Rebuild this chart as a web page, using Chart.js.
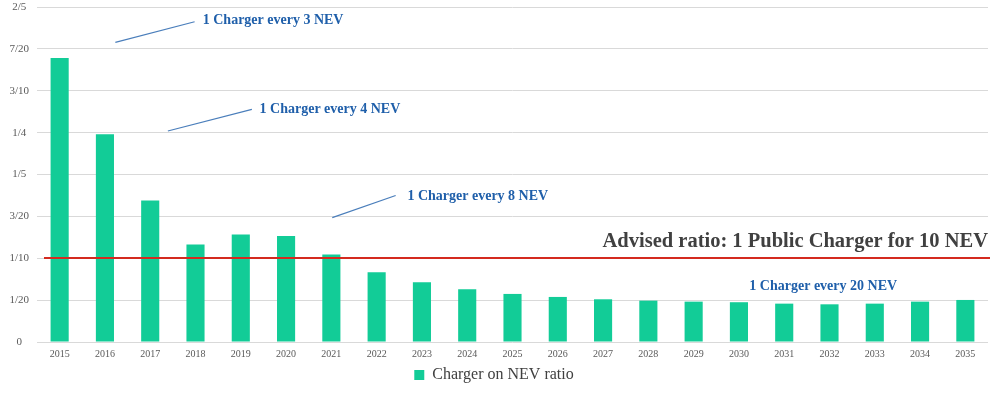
<!DOCTYPE html>
<html>
<head>
<meta charset="utf-8">
<script src="https://cdn.jsdelivr.net/npm/chart.js@4.4.1/dist/chart.umd.min.js"></script>
<style>
    html, body { margin: 0; padding: 0; background: #fff; }
    #wrap { width: 1000px; height: 393px; position: relative; }
</style>
</head>
<body>
<div id="wrap"><canvas id="chart"></canvas></div>
<script>
// Data.
var years = ['2015', '2016', '2017', '2018', '2019', '2020', '2021', '2022', '2023', '2024', '2025',
    '2026', '2027', '2028', '2029', '2030', '2031', '2032', '2033', '2034', '2035'];
var chargerRatio = [0.339, 0.248, 0.169, 0.1165, 0.1285, 0.1266, 0.1046, 0.0834, 0.0714, 0.063, 0.0574,
    0.0538, 0.051, 0.0494, 0.0482, 0.0475, 0.0458, 0.045, 0.0458, 0.0482, 0.0502];
var tickLabels = ['0', '1/20', '1/10', '3/20', '1/5', '1/4', '3/10', '7/20', '2/5'];
var tickStep = 0.05;
var advisedRatio = 0.1;
var seriesName = 'Charger on NEV ratio';
var advisedLabel = 'Advised ratio: 1 Public Charger for 10 NEV';

// Callouts, placed in data units (category index, ratio).
var callouts = [
    {text: '1 Charger every 3 NEV', from: [1.23, 0.3577], to: [2.98, 0.3824], at: [3.16, 0.3844]},
    {text: '1 Charger every 4 NEV', from: [2.39, 0.2519], to: [4.245, 0.2778], at: [4.415, 0.2778]},
    {text: '1 Charger every 8 NEV', from: [6.02, 0.1485], to: [7.42, 0.1749], at: [7.68, 0.1736]},
    {text: '1 Charger every 20 NEV', at: [15.23, 0.0659]}
];

var serif = "'Liberation Serif', 'Times New Roman', serif";
var grey = '#595959';

/**
 * Draw the advised-ratio line and the callouts on top of the bars.
 */
var calloutPlugin = {
    id: 'callouts',
    afterDatasetsDraw: function(chart) {
        var ctx = chart.ctx;
        var x = chart.scales.x;
        var y = chart.scales.y;
        var area = chart.chartArea;

        ctx.save();
        // Red reference line.
        var ry = Math.round(y.getPixelForValue(advisedRatio));
        ctx.strokeStyle = '#d42a1f';
        ctx.lineWidth = 2;
        ctx.beginPath();
        ctx.moveTo(area.left + 7, ry);
        ctx.lineTo(area.right + 2, ry);
        ctx.stroke();

        ctx.fillStyle = '#404040';
        ctx.font = 'bold 20.5px ' + serif;
        ctx.textAlign = 'right';
        ctx.textBaseline = 'middle';
        ctx.fillText(advisedLabel, area.right, y.getPixelForValue(0.1198));

        callouts.forEach(function(c) {
            if (c.from) {
                ctx.strokeStyle = '#4a7ebb';
                ctx.lineWidth = 1.2;
                ctx.beginPath();
                ctx.moveTo(x.getPixelForValue(c.from[0]), y.getPixelForValue(c.from[1]));
                ctx.lineTo(x.getPixelForValue(c.to[0]), y.getPixelForValue(c.to[1]));
                ctx.stroke();
            }
            ctx.fillStyle = '#1f5faa';
            ctx.font = 'bold 14px ' + serif;
            ctx.textAlign = 'left';
            ctx.fillText(c.text, x.getPixelForValue(c.at[0]), y.getPixelForValue(c.at[1]));
        });
        ctx.restore();
    }
};

new Chart(document.getElementById('chart'), {
    type: 'bar',
    data: {
        labels: years,
        datasets: [{
            label: seriesName,
            data: chargerRatio,
            backgroundColor: '#12cc97',
            barPercentage: 0.8,
            categoryPercentage: 0.5
        }]
    },
    options: {
        responsive: true,
        maintainAspectRatio: false,
        animation: false,
        layout: {padding: {left: 0, right: 12, top: 7, bottom: 0}},
        plugins: {
            legend: {
                position: 'bottom',
                labels: {
                    boxWidth: 10,
                    boxHeight: 10,
                    color: '#404040',
                    font: {family: serif, size: 16}
                }
            },
            tooltip: {enabled: false}
        },
        scales: {
            x: {
                grid: {display: false, drawTicks: false},
                border: {display: false},
                ticks: {color: grey, padding: 6, font: {family: serif, size: 10}, maxRotation: 0, autoSkip: false},
                afterFit: function(scale) {
                    scale.height = 15;
                }
            },
            y: {
                min: 0,
                max: 0.4,
                grid: {color: '#d9d9d9', drawTicks: false},
                border: {display: false},
                ticks: {
                    stepSize: tickStep,
                    color: grey,
                    padding: 8,
                    crossAlign: 'center',
                    font: {family: serif, size: 11},
                    callback: function(value) {
                        return tickLabels[Math.round(value / tickStep)];
                    }
                },
                afterFit: function(scale) {
                    scale.width = 37;
                    scale.paddingTop = 0;
                    scale.paddingBottom = 0;
                }
            }
        }
    },
    plugins: [calloutPlugin]
});
</script>
</body>
</html>
